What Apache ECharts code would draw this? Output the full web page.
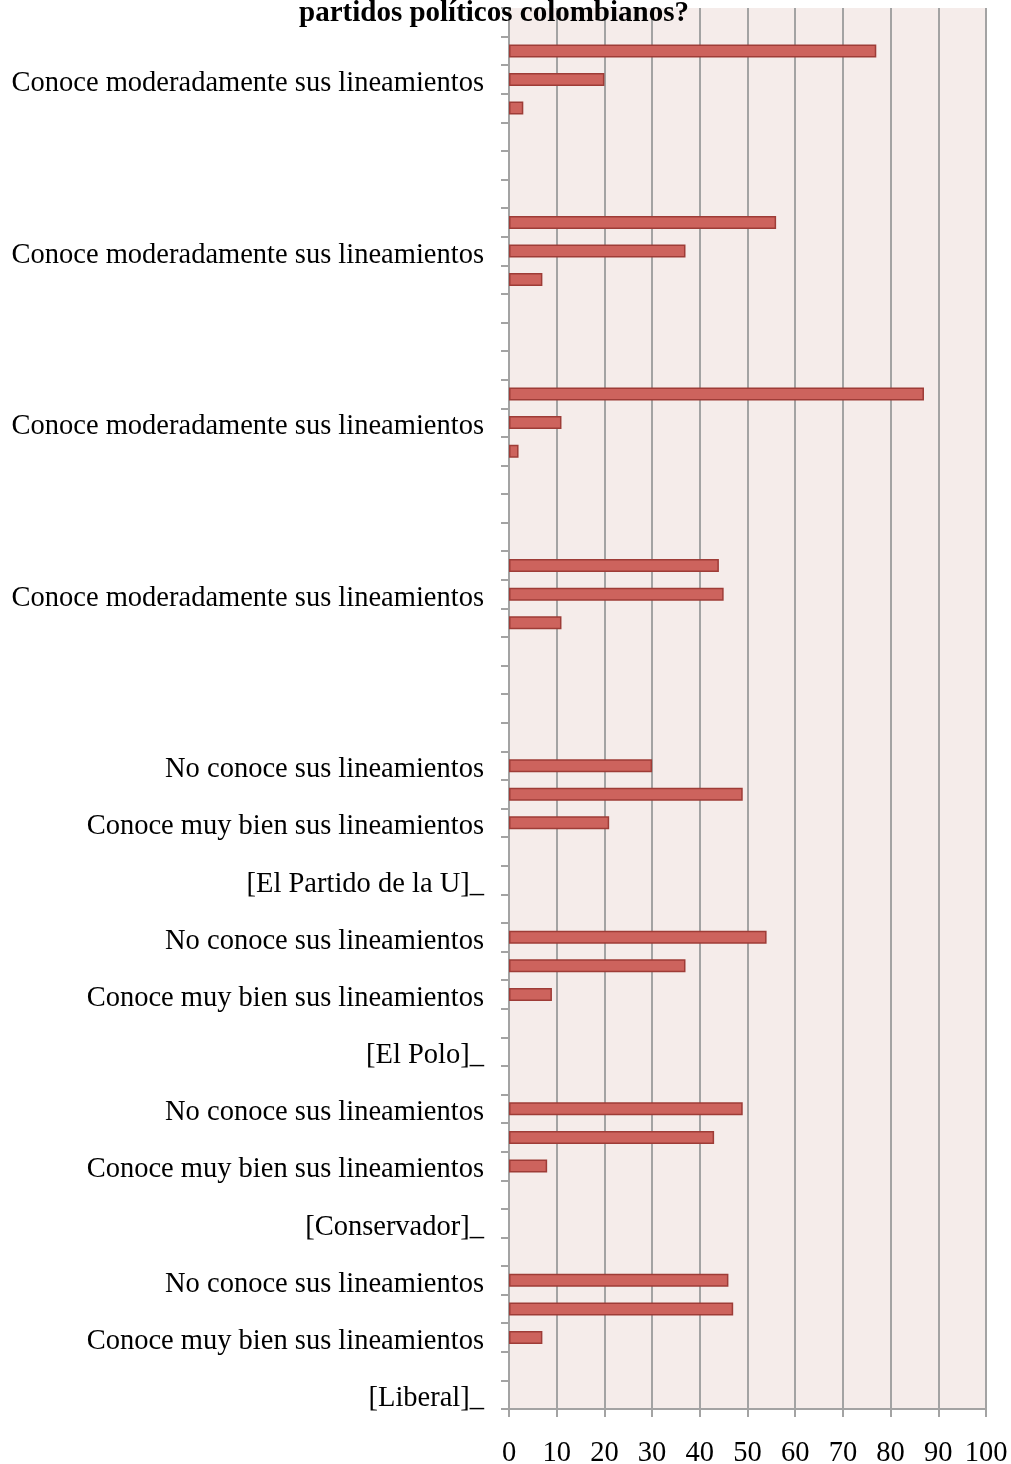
<!DOCTYPE html>
<html>
<head>
<meta charset="utf-8">
<script src="https://cdn.jsdelivr.net/npm/echarts@6/dist/echarts.min.js"></script>
<style>
  html, body { margin: 0; padding: 0; background: #ffffff; }
  #chart { width: 1011px; height: 1464px; }
</style>
</head>
<body>
<div id="chart"></div>
<script>
// Categories from bottom (index 0) to top (index 48)
const categories = [
  '[Liberal]_', '',
  'Conoce muy bien sus lineamientos', 'Conoce moderadamente sus lineamientos', 'No conoce sus lineamientos', '',
  '[Conservador]_', '',
  'Conoce muy bien sus lineamientos', 'Conoce moderadamente sus lineamientos', 'No conoce sus lineamientos', '',
  '[El Polo]_', '',
  'Conoce muy bien sus lineamientos', 'Conoce moderadamente sus lineamientos', 'No conoce sus lineamientos', '',
  '[El Partido de la U]_', '',
  'Conoce muy bien sus lineamientos', 'Conoce moderadamente sus lineamientos', 'No conoce sus lineamientos', '',
  '', '', '',
  'Conoce muy bien sus lineamientos', 'Conoce moderadamente sus lineamientos', 'No conoce sus lineamientos',
  '', '', '',
  'Conoce muy bien sus lineamientos', 'Conoce moderadamente sus lineamientos', 'No conoce sus lineamientos',
  '', '', '',
  'Conoce muy bien sus lineamientos', 'Conoce moderadamente sus lineamientos', 'No conoce sus lineamientos',
  '', '', '',
  'Conoce muy bien sus lineamientos', 'Conoce moderadamente sus lineamientos', 'No conoce sus lineamientos',
  ''
];

// Percent values, same order as categories (null = no bar)
const values = [
  null, null, 7, 47, 46, null,
  null, null, 8, 43, 49, null,
  null, null, 9, 37, 54, null,
  null, null, 21, 49, 30, null,
  null, null, null, 11, 45, 44,
  null, null, null, 2, 11, 87,
  null, null, null, 7, 37, 56,
  null, null, null, 3, 20, 77,
  null
];

const xTicks = [0, 10, 20, 30, 40, 50, 60, 70, 80, 90, 100];
const titleText = 'partidos políticos colombianos?';

const chart = echarts.init(document.getElementById('chart'), null, { renderer: 'canvas' });
const FONT = 'Liberation Serif';
const GRIDC = '#a3a3a3';

chart.setOption({
  animation: false,
  backgroundColor: '#ffffff',
  grid: {
    left: 509, right: 25, top: 8, bottom: 55,
    containLabel: false,
    outerBoundsMode: 'none',
    show: true,
    backgroundColor: '#f5ecea',
    borderWidth: 0
  },
  xAxis: {
    type: 'value',
    min: xTicks[0],
    max: xTicks[xTicks.length - 1],
    interval: 10,
    axisLine: { show: true, lineStyle: { color: GRIDC, width: 2 } },
    axisTick: { show: true, length: 8, lineStyle: { color: GRIDC, width: 2 } },
    splitLine: { show: true, lineStyle: { color: GRIDC, width: 2 } },
    axisLabel: { fontFamily: FONT, fontSize: 28.5, color: '#000000', margin: 30 }
  },
  yAxis: {
    type: 'category',
    data: categories,
    boundaryGap: true,
    axisLine: { show: true, lineStyle: { color: GRIDC, width: 2 } },
    axisTick: { show: true, interval: 0, length: 8, lineStyle: { color: GRIDC, width: 2 } },
    splitLine: { show: false },
    axisLabel: { interval: 1, fontFamily: FONT, fontSize: 28.5, color: '#000000', margin: 25, verticalAlign: 'top', lineHeight: 8 }
  },
  series: [{
    type: 'bar',
    data: values,
    barWidth: 13,
    itemStyle: { color: '#cd635d', borderColor: '#9e3c37', borderWidth: 1.5 }
  }],
  graphic: [{
    type: 'text',
    z: 100,
    style: {
      text: titleText,
      x: 494, y: 14,
      textAlign: 'center',
      textVerticalAlign: 'middle',
      font: 'bold 29px "Liberation Serif"',
      fill: '#000000'
    }
  }]
});
</script>
</body>
</html>
